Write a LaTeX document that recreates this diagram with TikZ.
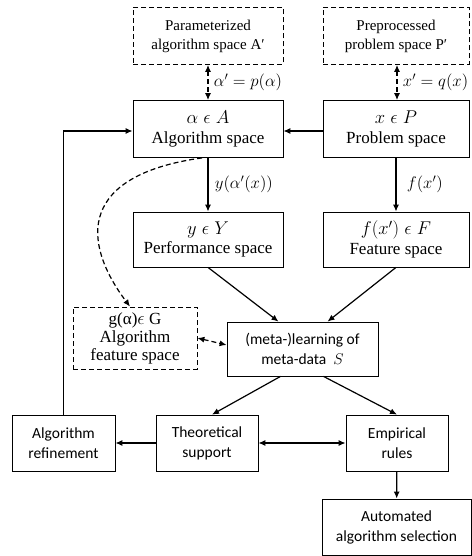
\RequirePackage{fix-cm}
\documentclass[tikz,border=0pt]{standalone}
\usepackage{fontspec}
\setmainfont{Liberation Serif}
\newfontfamily\calfont{Carlito}
\DeclareMathSizes{17}{18.5}{13}{10}
\usepackage{tikz}
\usetikzlibrary{arrows.meta, positioning, calc}
\tikzset{
  every picture/.style={>=Latex, line width=1.2pt},
  spc/.style={draw, thick, minimum width=150pt, minimum height=57pt, align=center,
              font=\fontsize{17}{19.5}\selectfont},
  pspc/.style={spc, dash pattern=on 5pt off 3pt, font=\fontsize{15}{19}\selectfont},
  act/.style={draw, thick, minimum width=102pt, minimum height=56pt, align=center,
              font=\calfont\fontsize{15.5}{20}\selectfont},
  flecha/.style={-{Latex[length=7pt,width=6pt]}, line width=1.2pt},
  flechab/.style={{Latex[length=7pt,width=6pt]}-{Latex[length=7pt,width=6pt]}, line width=1.2pt},
  flechad/.style={flechab, dash pattern=on 5pt off 3pt},
  rotulo/.style={font=\fontsize{16.8}{19}\selectfont, anchor=west},
}
\begin{document}
\begin{tikzpicture}[x=1pt, y=-1pt]
  \useasboundingbox (0,0) rectangle (471,556);
  % upper spaces
  \node[pspc] (P) at (208,36) {Parameterized\\algorithm space A′};
  \node[pspc, minimum width=146pt] (Q) at (396,36) {Preprocessed\\problem space P′};
  \node[spc] (A) at (208,129) {$\alpha\;\epsilon\;A$\\Algorithm space};
  \node[spc, minimum width=146pt] (X) at (396,129) {$x\;\epsilon\;P$\\Problem space};
  \node[spc, minimum height=55pt] (Y) at (208,239.5) {$y\;\epsilon\;Y$\\Performance space};
  \node[spc, minimum width=146pt, minimum height=55pt] (F) at (396,239.5) {$f(x')\;\epsilon\;F$\\Feature space};
  \node[pspc, minimum width=124pt, minimum height=62pt, font=\fontsize{17}{18}\selectfont] (G) at (135,338) {g(α)$\epsilon$ G\\Algorithm\\feature space};
  % learning and outcomes
  \node[act, minimum width=151pt, minimum height=54pt] (M) at (302.5,349) {(meta-)learning of\\meta-data \ $S$};
  \node[act, minimum width=103pt] (R) at (63.5,443) {Algorithm\\refinement};
  \node[act] (T) at (207,443) {Theoretical\\support};
  \node[act] (E) at (397,443) {Empirical\\rules};
  \node[act, minimum width=149pt] (S) at (396.5,527) {Automated\\algorithm selection};
  % connectors
  \draw[flechad] (P) -- (A) node[rotulo, midway, xshift=2pt] {$\alpha' = p(\alpha)$};
  \draw[flechad] ([xshift=1pt]Q.south) -- ([xshift=1pt]X.north) node[rotulo, midway, xshift=2pt] {$x' = q(x)$};
  \draw[flecha] ([yshift=-2pt]X.west) -- ([yshift=-2pt]A.east);
  \draw[flecha] (A) -- (Y) node[rotulo, midway, xshift=3pt] {$y(\alpha'(x))$};
  \draw[flecha] (X) -- (F) node[rotulo, midway, xshift=7pt] {$f(x')$};
  \draw[flecha] (Y.south) -- ([xshift=-24pt]M.north);
  \draw[flecha] (F.south) -- ([xshift=25pt]M.north);
  \draw[flechad, -{Latex[length=7pt,width=6pt]}] ([xshift=-6pt]A.south) .. controls (80,175) and (80,240) .. ([xshift=-5pt]G.north);
  \draw[flechad] (G.east) -- ([yshift=4pt]M.west);
  \draw[flecha] ([xshift=-22pt]M.south) -- ([xshift=5pt]T.north);
  \draw[flecha] ([xshift=21pt]M.south) -- (E.north);
  \draw[flechab] (T) -- (E); \draw[flecha] (T) -- (R); \draw[flecha] (E) -- (S);
  \draw[flecha] (R.north) |- ([yshift=-2pt]A.west);
\end{tikzpicture}
\end{document}
